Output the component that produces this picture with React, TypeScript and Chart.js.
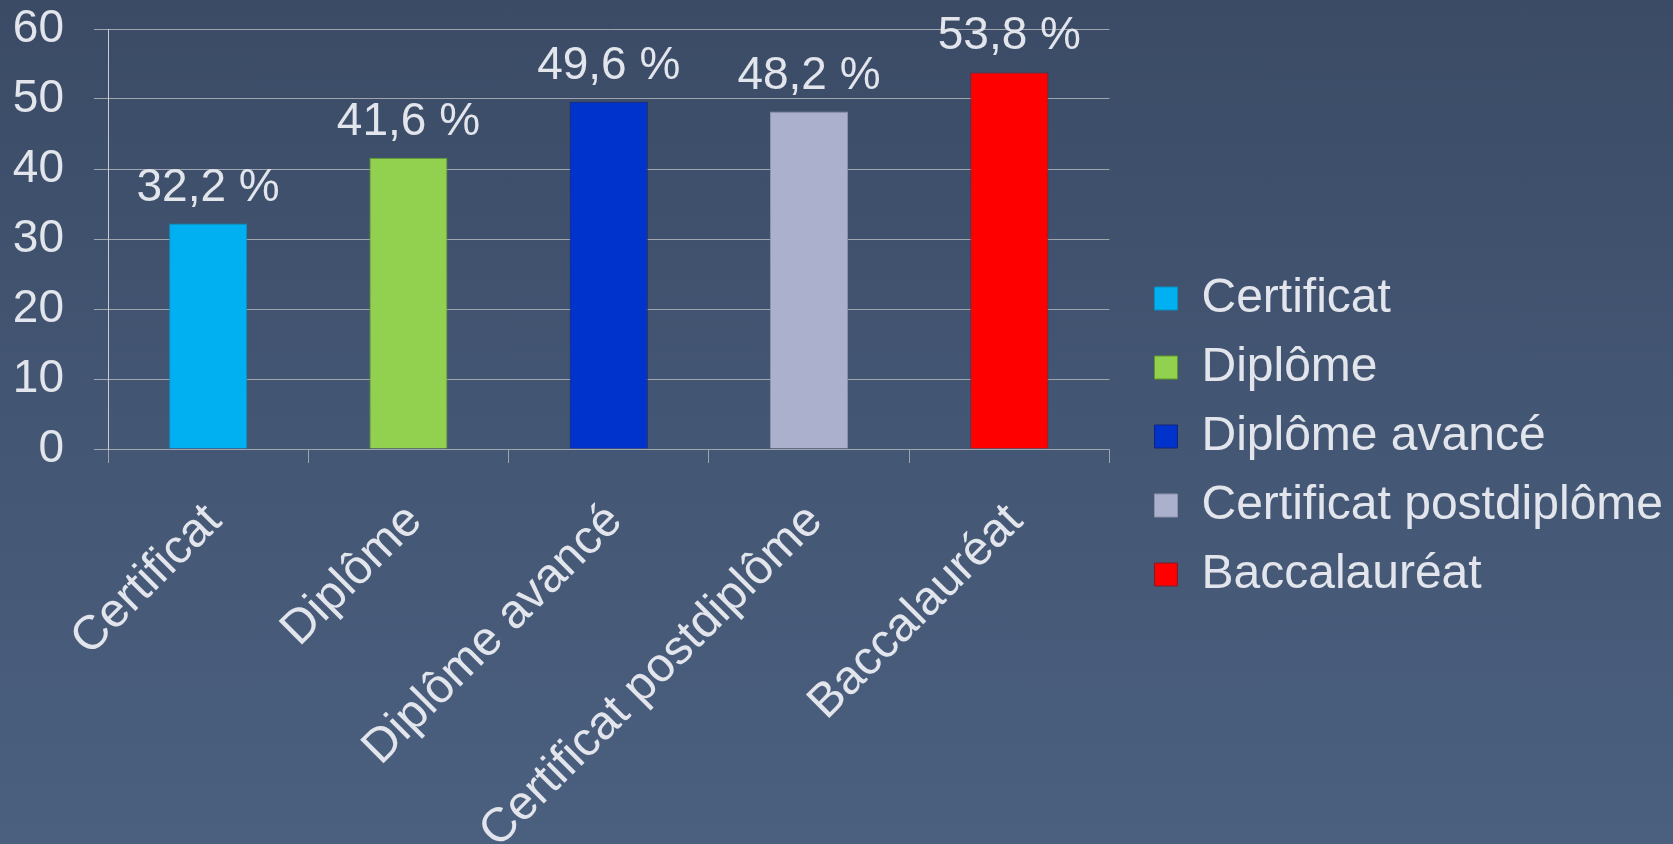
import React, { useEffect, useRef } from "react";
import { Chart, registerables } from "chart.js";

Chart.register(...registerables);

const categories = ["Certificat", "Diplôme", "Diplôme avancé", "Certificat postdiplôme", "Baccalauréat"];
const values = [32.2, 41.6, 49.6, 48.2, 53.8];
const valueLabels = ["32,2 %", "41,6 %", "49,6 %", "48,2 %", "53,8 %"];
const barColors = ["#00B0F0", "#92D050", "#0033CC", "#ABB1CC", "#FF0000"];
const barBorders = ["#0A8FC4", "#5E9A2A", "#12247A", "#8E93AE", "#7A1E2A"];
const yTicks = [0, 10, 20, 30, 40, 50, 60];

const FONT = "'Liberation Sans', Arial, sans-serif";
const TEXT = "#E3E5EC";
const GRID = "#A0A4AC";

const dataLabelPlugin = {
  id: "dataLabels",
  afterDatasetsDraw(chart: any) {
    const ctx = chart.ctx;
    const meta = chart.getDatasetMeta(0);
    ctx.save();
    ctx.font = `46px ${FONT}`;
    ctx.fillStyle = TEXT;
    ctx.textAlign = "center";
    ctx.textBaseline = "alphabetic";
    meta.data.forEach((el: any, i: number) => {
      ctx.fillText(valueLabels[i], el.x, el.y - 23);
    });
    ctx.restore();
  },
};

export default function App() {
  const ref = useRef<HTMLCanvasElement>(null);
  useEffect(() => {
    document.body.style.margin = "0";
    const chart = new Chart(ref.current!, {
      type: "bar",
      data: {
        labels: categories,
        datasets: [
          {
            data: values,
            backgroundColor: barColors,
            borderColor: barBorders,
            borderWidth: 1,
            barPercentage: 0.39,
            categoryPercentage: 1,
          },
        ],
      },
      plugins: [dataLabelPlugin],
      options: {
        animation: false,
        responsive: false,
        maintainAspectRatio: false,
        layout: { padding: { top: 29, left: 0, right: 0, bottom: 0 } },
        scales: {
          x: {
            offset: true,
            grid: {
              display: true,
              offset: true,
              drawOnChartArea: false,
              drawTicks: true,
              tickLength: 14,
              color: GRID,
            },
            border: { display: true, color: GRID, width: 1 },
            ticks: {
              color: TEXT,
              font: { family: FONT, size: 48 },
              minRotation: 45,
              maxRotation: 45,
              autoSkip: false,
              padding: 30,
              labelOffset: 6,
            },
            afterFit(s: any) {
              s.height = 395;
              s.paddingRight = 0;
              s.paddingLeft = 0;
            },
          },
          y: {
            min: 0,
            max: 60,
            afterBuildTicks(s: any) {
              s.ticks = yTicks.map((v) => ({ value: v }));
            },
            grid: { color: GRID, tickLength: 14, lineWidth: 1 },
            border: { display: true, color: "#C9CCD2", width: 1 },
            ticks: {
              color: TEXT,
              font: { family: FONT, size: 46 },
              padding: 30,
            },
            afterFit(s: any) {
              s.width = 108;
              s.paddingTop = 0;
              s.paddingBottom = 0;
            },
          },
          pad: {
            type: "linear",
            position: "right",
            display: true,
            grid: { display: false },
            ticks: { display: false },
            border: { display: false },
            afterFit(s: any) {
              s.width = 24;
              s.paddingTop = 0;
              s.paddingBottom = 0;
            },
          },
        },
        plugins: {
          tooltip: { enabled: false },
          legend: {
            position: "right",
            align: "center",
            maxWidth: 700,
            labels: {
              color: TEXT,
              font: { family: FONT, size: 48 },
              boxWidth: 23,
              boxHeight: 23,
              padding: 21,
              generateLabels: () =>
                categories.map((c, i) => ({
                  text: c,
                  fillStyle: barColors[i],
                  strokeStyle: barBorders[i],
                  lineWidth: 1,
                  hidden: false,
                  index: i,
                  fontColor: TEXT,
                })),
            },
          },
        },
      } as any,
    });
    return () => chart.destroy();
  }, []);
  return (
    <div
      style={{
        width: 1673,
        height: 844,
        background: "linear-gradient(to bottom, #3B4B66 0%, #435673 50%, #4B5F7F 100%)",
      }}
    >
      <canvas ref={ref} width={1673} height={844} style={{ display: "block" }} />
    </div>
  );
}
